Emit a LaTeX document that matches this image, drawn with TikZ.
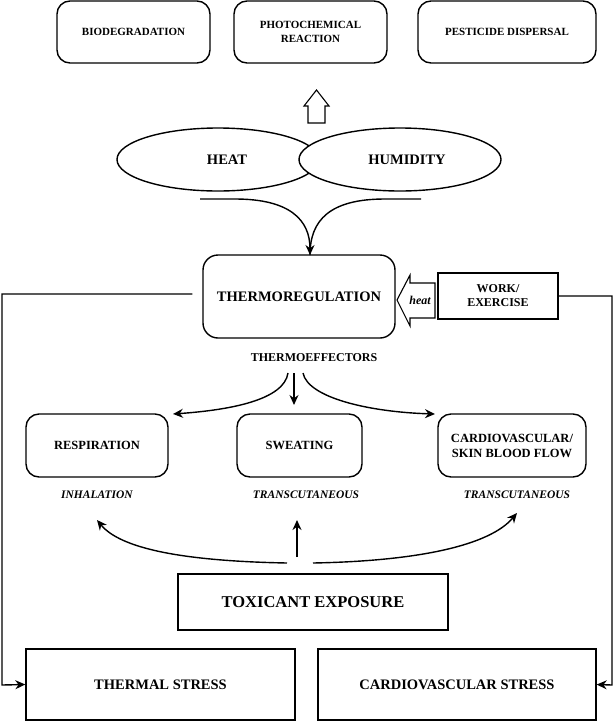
\documentclass[tikz,border=0pt]{standalone}
\usepackage{fontspec}
\setmainfont{Liberation Serif}
\usetikzlibrary{calc,shapes.geometric,arrows.meta}

\begin{document}
\begin{tikzpicture}[x=1pt,y=-1pt,>={Stealth[length=10pt,width=9pt]},
    trait/.style={line width=1.4pt},
    boite/.style={draw, line width=1.4pt, rounded corners=13pt, align=center, inner sep=2pt},
    cadre/.style={draw, line width=1.4pt, align=center, inner sep=2pt},
    bulle/.style={draw, ellipse, line width=1.4pt, inner sep=0pt},
    petit/.style={font=\bfseries\fontsize{11}{14}\selectfont},
    moyen/.style={font=\bfseries\fontsize{12.5}{15}\selectfont},
    grand/.style={font=\bfseries\fontsize{14.5}{17}\selectfont},
    voie/.style={font=\bfseries\itshape\fontsize{11.5}{14}\selectfont}]

        % Fixer le cadre de l'image
        \useasboundingbox (0,0) rectangle (615,721);

        % Les trois cases du haut
        \node[boite, petit, minimum width=153pt, minimum height=62pt] (bio) at (133.5,32) {BIODEGRADATION};
        \node[boite, petit, minimum width=153pt, minimum height=62pt] (photo) at (310.5,32) {PHOTOCHEMICAL\\REACTION};
        \node[boite, petit, minimum width=178pt, minimum height=62pt] (pest) at (507,32) {PESTICIDE DISPERSAL};

        % Flèche creuse vers le haut
        \draw[line width=1.1pt] (308,123) -- (308,106) -- (304,106) -- (316.5,90) -- (329,106) -- (325,106) -- (325,123) -- cycle;

        % Les deux ellipses (HUMIDITY recouvre HEAT)
        \node[bulle, grand, minimum width=202pt, minimum height=63pt] (heat) at (218,159.5) {\hspace{18pt}HEAT};
        \node[bulle, grand, fill=white, minimum width=202pt, minimum height=63pt] (humid) at (400,159.5) {\hspace{14pt}HUMIDITY};

        % Les deux courbes qui descendent vers la thermorégulation
        \coordinate (hL) at (200,199);
        \coordinate (hR) at (421,199);
        \node[boite, grand, rounded corners=15pt, minimum width=192pt, minimum height=83pt] (thermo) at (299,296.5) {THERMOREGULATION};
        \coordinate (top) at (310,255);
        \draw[trait] (hR) -- (385,199) .. controls (330,199) and (310,220) .. (top);
        \draw[trait,->] (hL) -- (235,199) .. controls (290,199) and (310,220) .. (top);

        % Travail / exercice et flèche creuse de chaleur
        \node[cadre, font=\bfseries\fontsize{12}{14}\selectfont, minimum width=120pt, minimum height=46pt] (work) at (498,296) {WORK/\\EXERCISE};
        \draw[line width=1.1pt] (397,300) -- (410,275) -- (410,283) -- (435,283) -- (435,318) -- (410,318) -- (410,326) -- cycle;
        \node[font=\bfseries\itshape\fontsize{12}{14}\selectfont, inner sep=0pt] (chaleur) at (420,300) {heat};

        % Thermoeffecteurs
        \node[font=\bfseries\fontsize{12}{14}\selectfont] (eff) at (314,358) {THERMOEFFECTORS};
        \node[boite, moyen, minimum width=142pt, minimum height=63pt] (resp) at (97,445.5) {RESPIRATION};
        \node[boite, moyen, minimum width=125pt, minimum height=63pt] (sweat) at (299.5,445.5) {SWEATING};
        \node[boite, moyen, minimum width=148pt, minimum height=63pt] (cardio) at (512,445.5) {CARDIOVASCULAR/\\SKIN BLOOD FLOW};

        \coordinate (eL) at (288,373);
        \coordinate (eM) at (294,373);
        \coordinate (eR) at (303,373);
        \coordinate (tL) at (173,414);
        \coordinate (tM) at (294,405);
        \coordinate (tR) at (435,414);
        \draw[trait,->] (eL) .. controls (284,400) and (230,410) .. (tL);
        \draw[trait,->] (eM) -- (tM);
        \draw[trait,->] (eR) .. controls (308,398) and (370,412) .. (tR);

        % Voies d'entrée
        \node[voie] (inh) at (97,495) {INHALATION};
        \node[voie] (tra1) at (306,495) {TRANSCUTANEOUS};
        \node[voie] (tra2) at (517,495) {TRANSCUTANEOUS};

        % Exposition aux toxiques et ses trois flèches
        \node[cadre, font=\bfseries\fontsize{16.5}{19}\selectfont, minimum width=270pt, minimum height=56pt] (tox) at (313,602) {TOXICANT EXPOSURE};
        \coordinate (bL) at (287,563);
        \coordinate (bM) at (297,557);
        \coordinate (bR) at (313,563);
        \draw[trait,->] (bL) .. controls (180,561) and (120,548) .. (97,520);
        \draw[trait,->] (bM) -- (297,520);
        \draw[trait,->] (bR) .. controls (420,561) and (490,545) .. (517,513);

        % Les deux cases de stress
        \node[cadre, grand, minimum width=269pt, minimum height=71pt] (therm) at (160.5,684.5) {THERMAL STRESS};
        \node[cadre, grand, minimum width=278pt, minimum height=71pt] (cvs) at (457,684.5) {CARDIOVASCULAR STRESS};

        % Retours latéraux
        \draw[trait,->] ($(thermo.west)+(-10,-2.5)$) -| (2,685) -- (therm.west);
        \draw[trait,->] (work.east) -| (612,685) -- (cvs.east);
    \end{tikzpicture}
\end{document}
